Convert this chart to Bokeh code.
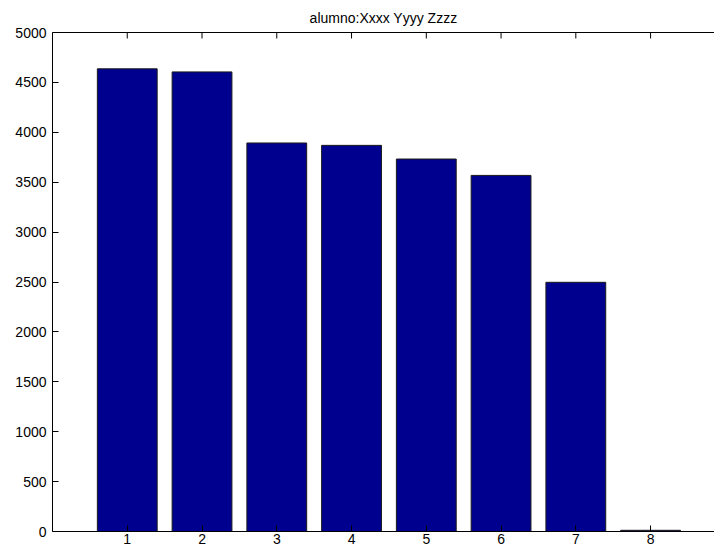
from bokeh.plotting import figure
from bokeh.models import Range1d, LinearAxis, FixedTicker, ColumnDataSource
from bokeh.embed import file_html
from bokeh.resources import INLINE

# data
categories = [1, 2, 3, 4, 5, 6, 7, 8]
values = [4636, 4605, 3893, 3869, 3732, 3568, 2497, 12]
x_ticks = [1, 2, 3, 4, 5, 6, 7, 8]
y_ticks = [0, 500, 1000, 1500, 2000, 2500, 3000, 3500, 4000, 4500, 5000]
title_text = "alumno:Xxxx Yyyy Zzzz"

FONT = "Liberation Sans"
Y_MAX = 5000
TICK_LEN = 60  # inward tick length on the top edge, in data units (~6 px)

src = ColumnDataSource(dict(x=categories, top=values))

p = figure(width=714, height=548, output_backend="svg", toolbar_location=None,
           x_range=Range1d(0, 8.855), y_range=Range1d(0, Y_MAX),
           x_axis_location=None, y_axis_location=None,
           min_border_left=52, min_border_right=0, min_border_top=0, min_border_bottom=17)
p.outline_line_color = None
p.xgrid.visible = False
p.ygrid.visible = False
p.background_fill_color = "white"
p.border_fill_color = "white"

p.title.text = title_text
p.title.align = "center"
p.title.text_font = FONT
p.title.text_font_size = "14px"
p.title.text_font_style = "normal"
p.title.text_color = "black"
p.title.standoff = 14
p.title.offset = 20

p.vbar(x="x", top="top", width=0.8, bottom=0, source=src,
       fill_color="#00008F", line_color="#1a1a1a", line_width=1)

# top edge ticks (box style)
p.segment(x0=x_ticks, y0=[Y_MAX] * len(x_ticks), x1=x_ticks,
          y1=[Y_MAX - TICK_LEN] * len(x_ticks), line_color="black", line_width=1)

def style(ax):
    ax.axis_line_color = "black"
    ax.axis_line_width = 1
    ax.major_tick_in = 6
    ax.major_tick_out = 0
    ax.minor_tick_in = 0
    ax.minor_tick_out = 0
    ax.major_tick_line_color = "black"
    ax.major_label_text_font = FONT
    ax.major_label_text_color = "black"
    ax.major_label_text_font_size = "14px"

xb = LinearAxis(ticker=FixedTicker(ticks=x_ticks))
style(xb)
xb.major_label_standoff = 2
p.add_layout(xb, "below")

xt = LinearAxis(ticker=FixedTicker(ticks=[]))
style(xt)
xt.major_label_standoff = 0
p.add_layout(xt, "above")

yl = LinearAxis(ticker=FixedTicker(ticks=y_ticks))
style(yl)
yl.major_label_standoff = 6
p.add_layout(yl, "left")

open("out.html", "w").write(file_html(p, INLINE))
